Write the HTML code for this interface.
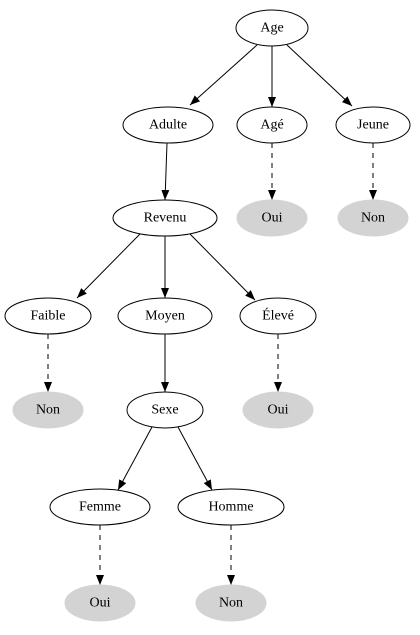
<!DOCTYPE html>
<html><head><meta charset="utf-8"><style>
html,body{margin:0;padding:0;background:#fff;}
svg{display:block;}
text{font-family:"Liberation Serif",serif;font-size:14px;text-anchor:middle;dominant-baseline:central;fill:#000;}
</style></head><body>
<svg width="420" height="635" viewBox="0 0 420 635">
<defs><marker id="a" markerWidth="10" markerHeight="8" refX="10" refY="4" orient="auto" markerUnits="userSpaceOnUse"><path d="M0,0 L10,4 L0,8 z" fill="#000"/></marker></defs>
<g fill="#fff" stroke="#000" stroke-width="1">
<ellipse cx="272" cy="28" rx="36" ry="18"/>
<ellipse cx="168" cy="125" rx="45" ry="18"/>
<ellipse cx="272" cy="125" rx="35" ry="18"/>
<ellipse cx="373" cy="125" rx="37" ry="18"/>
<ellipse cx="165" cy="218" rx="52" ry="18"/>
<ellipse cx="48" cy="316" rx="43" ry="18"/>
<ellipse cx="165" cy="316" rx="47" ry="18"/>
<ellipse cx="278" cy="316" rx="38" ry="18"/>
<ellipse cx="165" cy="410" rx="38" ry="18"/>
<ellipse cx="100" cy="507" rx="50" ry="18"/>
<ellipse cx="231" cy="507" rx="53" ry="18"/>
</g>
<g fill="#d3d3d3" stroke="#d3d3d3">
<ellipse cx="272" cy="218" rx="35" ry="18"/>
<ellipse cx="373" cy="218" rx="35" ry="18"/>
<ellipse cx="48" cy="410" rx="35" ry="18"/>
<ellipse cx="278" cy="410" rx="35" ry="18"/>
<ellipse cx="100" cy="603" rx="35" ry="18"/>
<ellipse cx="231" cy="603" rx="35" ry="18"/>
</g>
<g stroke="#000" stroke-width="1" marker-end="url(#a)">
<line x1="257" y1="45" x2="190" y2="105"/>
<line x1="272" y1="46" x2="272" y2="107"/>
<line x1="287" y1="45" x2="352" y2="106"/>
<line x1="167" y1="143" x2="165" y2="200"/>
<line x1="140" y1="234" x2="77" y2="298"/>
<line x1="165" y1="236" x2="165" y2="298"/>
<line x1="190" y1="234" x2="255" y2="300"/>
<line x1="165" y1="334" x2="165" y2="392"/>
<line x1="152" y1="427" x2="118" y2="490"/>
<line x1="178" y1="427" x2="212" y2="490"/>
</g>
<g stroke="#000" stroke-width="1" stroke-dasharray="5,5" marker-end="url(#a)">
<line x1="272" y1="143" x2="272" y2="200"/>
<line x1="373" y1="143" x2="373" y2="200"/>
<line x1="48" y1="334" x2="48" y2="392"/>
<line x1="278" y1="334" x2="278" y2="392"/>
<line x1="100" y1="525" x2="100" y2="585"/>
<line x1="231" y1="525" x2="231" y2="585"/>
</g>
<text x="272" y="28">Age</text>
<text x="168" y="125">Adulte</text>
<text x="272" y="125">Agé</text>
<text x="373" y="125">Jeune</text>
<text x="272" y="218">Oui</text>
<text x="373" y="218">Non</text>
<text x="165" y="218">Revenu</text>
<text x="48" y="316">Faible</text>
<text x="165" y="316">Moyen</text>
<text x="278" y="316">Élevé</text>
<text x="48" y="410">Non</text>
<text x="165" y="410">Sexe</text>
<text x="278" y="410">Oui</text>
<text x="100" y="507">Femme</text>
<text x="231" y="507">Homme</text>
<text x="100" y="603">Oui</text>
<text x="231" y="603">Non</text>
</svg>
</body></html>
